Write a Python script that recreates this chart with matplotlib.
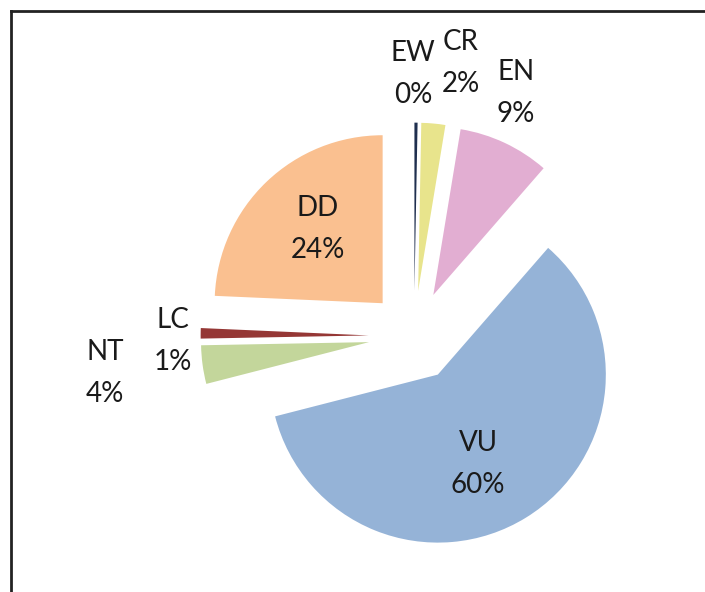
import matplotlib.pyplot as plt
from matplotlib.lines import Line2D

# Red List categories, clockwise from the top
categories = ['EW', 'CR', 'EN', 'VU', 'NT', 'LC', 'DD']
shares = [0.3, 2.3, 8.8, 59.6, 3.7, 1.0, 24.3]
pct_labels = ['0%', '2%', '9%', '60%', '4%', '1%', '24%']

colors = ['#1F2F4F', '#E8E48C', '#E2AED2', '#95B3D7', '#C3D69B', '#953735', '#FAC090']

# label anchor points (pixels, origin top-left) - Excel "best fit" placement
label_pos = [(413, 74), (461, 63), (516, 93), (478, 464), (105, 373), (173, 341), (318, 229)]

W, H = 705, 592
R = 168
fig = plt.figure(figsize=(W / 100, H / 100), dpi=100)
ax = fig.add_axes([0, 0, 1, 1])

# explode is in data units here (pie doesn't scale it by radius)
ax.pie(shares, colors=colors, startangle=90, counterclock=False,
       center=(414, H - 336), radius=R, explode=[0.27 * R] * len(shares),
       wedgeprops=dict(linewidth=0))

ax.set_xlim(0, W)
ax.set_ylim(0, H)
ax.set_aspect('equal')
ax.axis('off')

for cat, pct, (px, py) in zip(categories, pct_labels, label_pos):
    ax.text(px, H - py, cat + '\n' + pct, ha='center', va='center',
            fontsize=20, family=['Lato', 'DejaVu Sans'], color='#1a1a1a',
            linespacing=1.75)

# chart frame (only top and left edges fall inside the crop)
fx, fy = 11 / W, 1 - 11 / H
fig.add_artist(Line2D([fx, 1.01], [fy, fy], transform=fig.transFigure, color='#222222', lw=2))
fig.add_artist(Line2D([fx, fx], [fy, -0.01], transform=fig.transFigure, color='#222222', lw=2))

fig.savefig('out.png', dpi=100)
